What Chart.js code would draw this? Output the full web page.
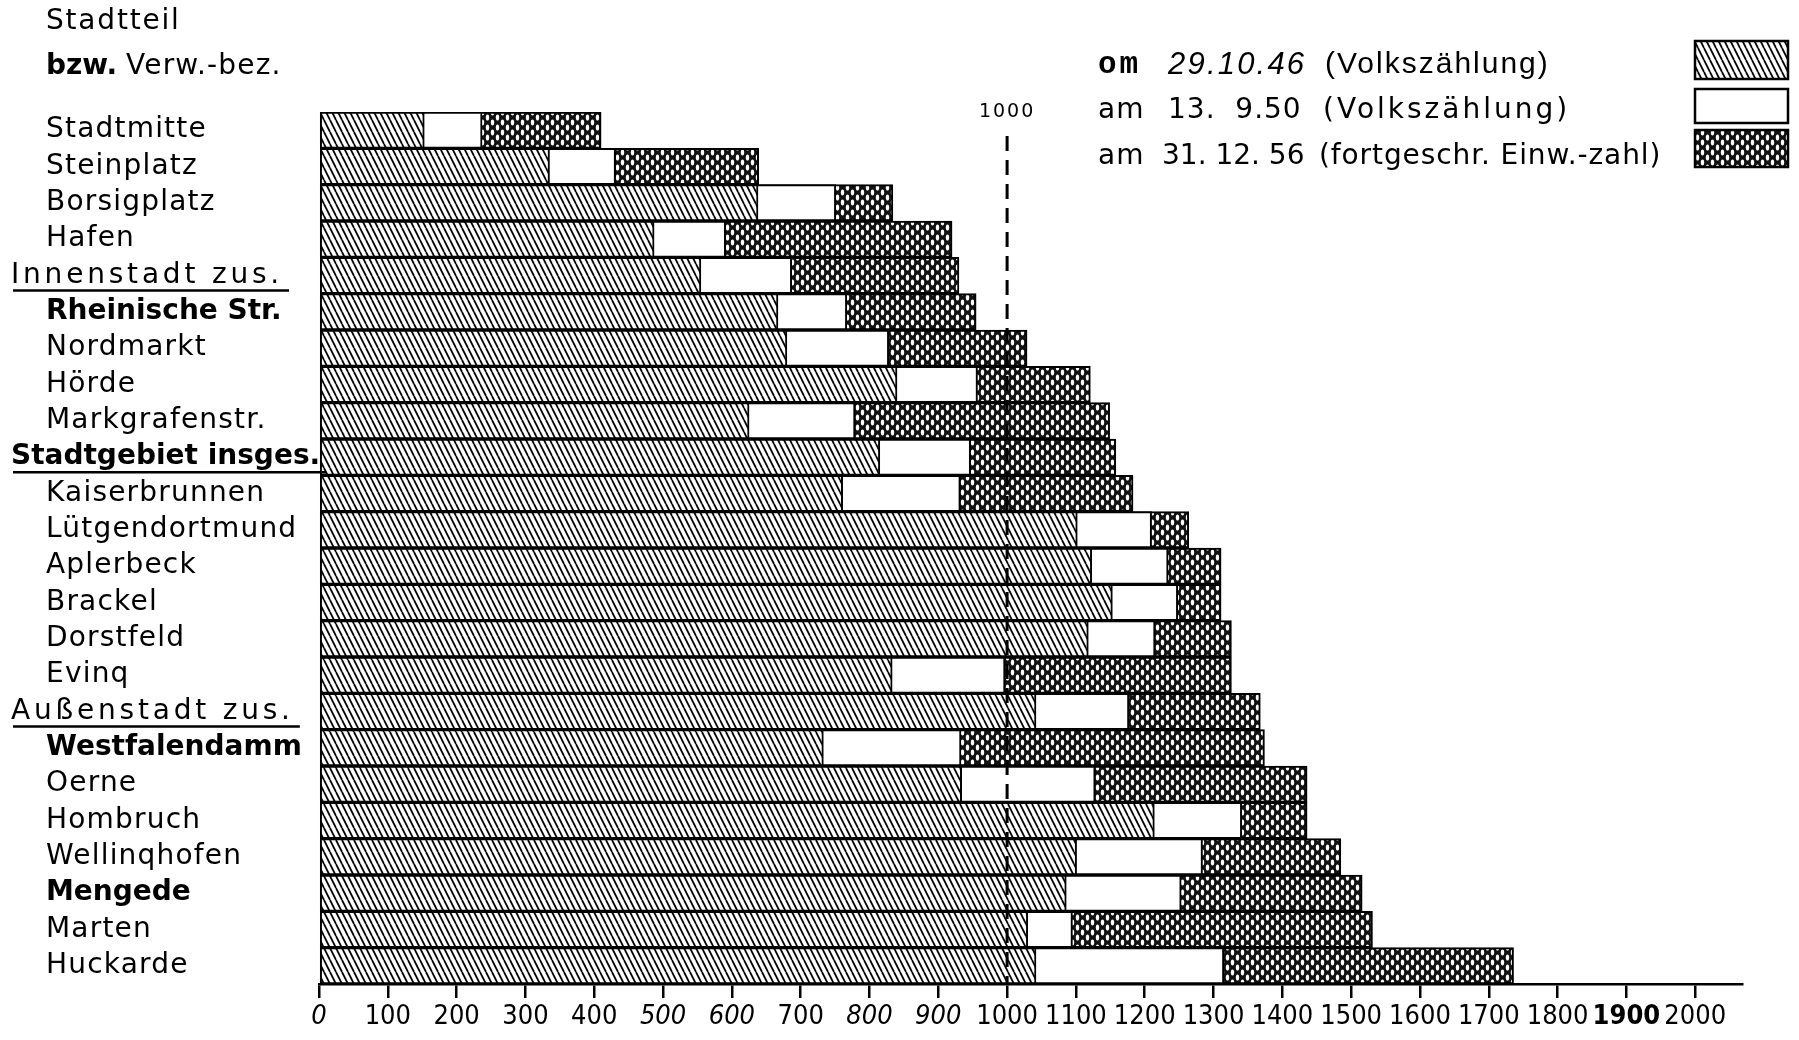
<!DOCTYPE html>
<html lang="de">
<head>
<meta charset="utf-8">
<title>Stadtteile Dortmund</title>
<script src="https://cdn.jsdelivr.net/npm/chart.js@4.4.1/dist/chart.umd.min.js"></script>
<style>
  html, body { margin: 0; padding: 0; background: #fff; }
  canvas { display: block; }
</style>
</head>
<body>
<canvas id="chart" width="1799" height="1040"></canvas>
<script>
// categories, top to bottom
const districts = [
  'Stadtmitte', 'Steinplatz', 'Borsigplatz', 'Hafen', 'Innenstadt zus.',
  'Rheinische Str.', 'Nordmarkt', 'Hörde', 'Markgrafenstr.', 'Stadtgebiet insges.',
  'Kaiserbrunnen', 'Lütgendortmund', 'Aplerbeck', 'Brackel', 'Dorstfeld',
  'Evinq', 'Außenstadt zus.', 'Westfalendamm', 'Oerne', 'Hombruch',
  'Wellinqhofen', 'Mengede', 'Marten', 'Huckarde'
];
const sumRows = ['Innenstadt zus.', 'Außenstadt zus.', 'Stadtgebiet insges.'];
const boldRows = ['Rheinische Str.', 'Stadtgebiet insges.', 'Westfalendamm', 'Mengede'];

// values
const values1946 = [153, 335, 638, 487, 555, 667, 680, 840, 625, 815, 761, 1102, 1123, 1153, 1118, 833, 1042, 733, 934, 1214, 1101, 1086, 1030, 1042];
const values1950 = [237, 431, 751, 591, 687, 767, 828, 957, 779, 947, 932, 1210, 1234, 1248, 1215, 997, 1177, 933, 1128, 1341, 1284, 1253, 1095, 1315];
const values1956 = [410, 639, 834, 920, 930, 955, 1029, 1121, 1149, 1158, 1183, 1264, 1311, 1311, 1326, 1326, 1368, 1374, 1436, 1436, 1485, 1516, 1531, 1736];

const seriesPrefix = ['om', 'am', 'am'];
const seriesDates = ['29.10.46', '13.  9.50', '31. 12. 56'];
const seriesNotes = ['(Volkszählung)', '(Volkszählung)', '(fortgeschr. Einw.-zahl)'];

const tickValues = [0, 100, 200, 300, 400, 500, 600, 700, 800, 900, 1000,
  1100, 1200, 1300, 1400, 1500, 1600, 1700, 1800, 1900, 2000];
const italicTicks = [0, 500, 600, 800, 900];
const boldTicks = [1900];
const markValue = 1000;

const headerLines = ['Stadtteil', 'Verw.-bez.'];
const headerBold = 'bzw.';

// fill patterns
function makeHatch() {
  const c = document.createElement('canvas');
  c.width = 6; c.height = 12;
  const g = c.getContext('2d');
  g.fillStyle = '#fff';
  g.fillRect(0, 0, 6, 12);
  g.strokeStyle = '#000';
  g.lineWidth = 1.8;
  [-6, 0, 6].forEach(function (dx) {
    g.beginPath();
    g.moveTo(dx, 0);
    g.lineTo(dx + 6, 12);
    g.stroke();
  });
  return g.createPattern(c, 'repeat');
}

function makeDots() {
  const c = document.createElement('canvas');
  c.width = 10; c.height = 10;
  const g = c.getContext('2d');
  g.fillStyle = '#111';
  g.fillRect(0, 0, 10, 10);
  g.fillStyle = '#fff';
  [[2.5, 2.5], [7.5, 7.5], [7.5, -2.5], [2.5, 12.5]].forEach(function (p) {
    g.beginPath();
    g.ellipse(p[0], p[1], 1.7, 3.0, 0, 0, Math.PI * 2);
    g.fill();
  });
  return g.createPattern(c, 'repeat');
}

const hatch = makeHatch();
const dots = makeDots();
const fills = [hatch, '#ffffff', dots];

const labelFont = "'DejaVu Sans', sans-serif";
const tickFont = "'DejaVu Sans Condensed', 'Liberation Sans Narrow', Roboto, sans-serif";

function spaced(ctx, text, x, y, font, spacing) {
  ctx.font = font;
  ctx.letterSpacing = spacing + 'px';
  ctx.fillText(text, x, y);
  const w = ctx.measureText(text).width;
  ctx.letterSpacing = '0px';
  return w;
}

const markLine = {
  id: 'markLine',
  afterDatasetsDraw(chart) {
    const ctx = chart.ctx;
    const x = chart.scales.x.getPixelForValue(markValue);
    const area = chart.chartArea;
    ctx.save();
    ctx.strokeStyle = '#000';
    ctx.lineWidth = 3;
    ctx.setLineDash([15, 9]);
    ctx.beginPath();
    ctx.moveTo(x, area.top + 24);
    ctx.lineTo(x, area.bottom);
    ctx.stroke();
    ctx.setLineDash([]);
    ctx.fillStyle = '#000';
    ctx.textAlign = 'center';
    ctx.textBaseline = 'middle';
    spaced(ctx, String(markValue), x, area.top, "19px " + labelFont, 2);
    ctx.restore();
  }
};

const texts = {
  id: 'texts',
  afterDraw(chart) {
    const ctx = chart.ctx;
    const y = chart.scales.y;
    ctx.save();
    ctx.fillStyle = '#000';
    ctx.strokeStyle = '#000';
    ctx.textBaseline = 'middle';
    ctx.textAlign = 'left';

    // header
    spaced(ctx, headerLines[0], 46, 22, "28px " + labelFont, 1.8);
    const bw = spaced(ctx, headerBold, 46, 67, "bold 28px " + labelFont, 0);
    spaced(ctx, headerLines[1], 46 + bw + 9, 67, "28px " + labelFont, 1.2);

    // category labels
    districts.forEach(function (name, i) {
      const py = y.getPixelForValue(i);
      const isSum = sumRows.includes(name);
      const isBold = boldRows.includes(name);
      const x = isSum ? 11 : 46;
      const font = (isBold ? 'bold ' : '') + "28px " + labelFont;
      const spacing = isBold ? 0 : (isSum ? 3.8 : 1.2);
      const w = spaced(ctx, name, x, py, font, spacing);
      if (isSum) {
        ctx.lineWidth = 2.5;
        ctx.beginPath();
        ctx.moveTo(x + 2, py + 15);
        ctx.lineTo(x + w + 6, py + 15);
        ctx.stroke();
      }
    });

    // legend
    const rows = [65, 111, 157];
    const boxes = [[41, 79], [89, 123], [130, 167]];
    const partX = [[1098, 1168, 1325], [1098, 1168, 1323], [1098, 1162, 1319]];
    for (let i = 0; i < 3; i++) {
      const ly = rows[i];
      const px = partX[i];
      if (i === 0) {
        spaced(ctx, seriesPrefix[i], px[0], ly, "bold 31px 'Liberation Mono', monospace", 3);
        spaced(ctx, seriesDates[i], px[1], ly, "italic 31px 'Liberation Sans', sans-serif", 2.2);
        spaced(ctx, seriesNotes[i], px[2], ly, "30px 'Liberation Sans', sans-serif", 2);
      } else {
        spaced(ctx, seriesPrefix[i], px[0], ly, "28px " + labelFont, 1);
        spaced(ctx, seriesDates[i], px[1], ly, "28px " + labelFont, i === 1 ? 1 : 0);
        spaced(ctx, seriesNotes[i], px[2], ly, "28px " + labelFont, i === 1 ? 3 : 0.9);
      }
      const b = boxes[i];
      ctx.fillStyle = fills[i];
      ctx.fillRect(1695, b[0], 93, b[1] - b[0]);
      ctx.fillStyle = '#000';
      ctx.lineWidth = 2.5;
      ctx.strokeRect(1695, b[0], 93, b[1] - b[0]);
    }
    ctx.restore();
  }
};

const ctx = document.getElementById('chart').getContext('2d');

const chart = new Chart(ctx, {
  type: 'bar',
  data: {
    labels: districts,
    datasets: [values1946, values1950, values1956].map(function (vals, i) {
      return {
        label: seriesPrefix[i] + ' ' + seriesDates[i] + ' ' + seriesNotes[i],
        data: vals,
        backgroundColor: fills[i],
        borderColor: '#000',
        borderWidth: 2,
        borderSkipped: false,
        grouped: false,
        barPercentage: 1,
        categoryPercentage: 1
      };
    })
  },
  options: {
    indexAxis: 'y',
    responsive: false,
    animation: false,
    devicePixelRatio: 1,
    layout: { padding: { top: 112, right: 57, left: 0, bottom: 0 } },
    plugins: {
      legend: { display: false },
      tooltip: { enabled: false }
    },
    scales: {
      y: {
        afterFit(s) { s.width = 319; },
        ticks: { display: false },
        grid: { display: false },
        border: { display: false }
      },
      x: {
        min: 0,
        max: 2068,
        afterFit(s) { s.height = 56; },
        afterBuildTicks(s) { s.ticks = tickValues.map(function (v) { return { value: v }; }); },
        grid: { drawOnChartArea: false, drawTicks: true, tickLength: 14, color: '#000', lineWidth: 2.5 },
        border: { display: true, color: '#000', width: 2.5 },
        ticks: {
          color: '#000',
          padding: 3,
          autoSkip: false,
          maxRotation: 0,
          callback: function (v) { return String(v); },
          font: function (c) {
            const v = c.tick ? c.tick.value : null;
            return {
              family: tickFont,
              size: 27,
              style: italicTicks.includes(v) ? 'italic' : 'normal',
              weight: boldTicks.includes(v) ? 'bold' : 'normal'
            };
          }
        }
      }
    }
  },
  plugins: [markLine, texts]
});
</script>
</body>
</html>
